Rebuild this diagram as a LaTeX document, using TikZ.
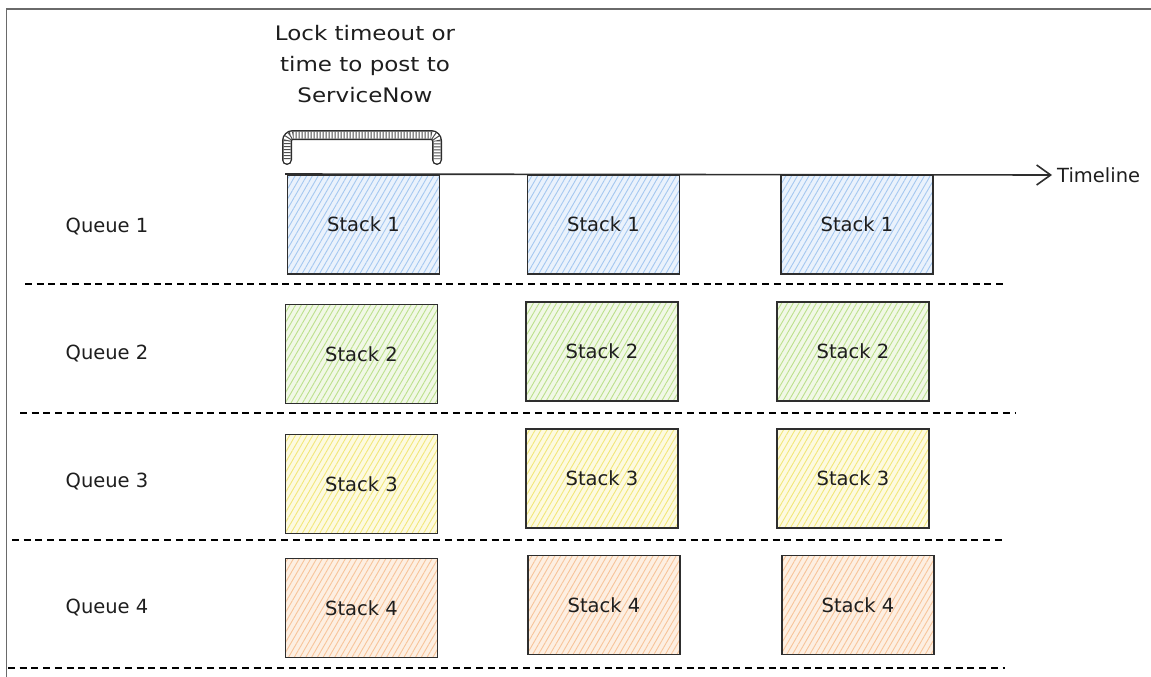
\documentclass[tikz,border=0pt]{standalone}
\usepackage{fontspec}
\setmainfont{DejaVu Sans}
\newfontfamily\widehand[FakeStretch=1.15]{DejaVu Sans}
\usetikzlibrary{patterns.meta,arrows.meta}

\definecolor{ink}{HTML}{2E2E2E}
\definecolor{txt}{HTML}{1E1E1E}
\definecolor{frame}{HTML}{6A6A6A}
% hachure line colours and pale fills of the four queues
\definecolor{hblue}{HTML}{A5C8F0}\definecolor{fblue}{HTML}{EAF2FC}
\definecolor{hgreen}{HTML}{BCE08C}\definecolor{fgreen}{HTML}{F1F8E6}
\definecolor{hyellow}{HTML}{F2E77A}\definecolor{fyellow}{HTML}{FDFAE0}
\definecolor{horange}{HTML}{F7C49A}\definecolor{forange}{HTML}{FDEFE2}

\begin{document}
\begin{tikzpicture}[x=1pt,y=-1pt,
  handtext/.style={text=txt, font=\fontsize{19.5}{23}\selectfont, inner sep=0pt},
  stackbox/.style={draw=ink, line width=1.5pt, minimum width=152pt,
    minimum height=99pt, inner sep=0pt, handtext,
    preaction={fill=#1},
    pattern={Lines[angle=60,distance=5pt,line width=0.9pt]},
  },
  blueb/.style={stackbox=fblue, pattern color=hblue},
  greenb/.style={stackbox=fgreen, pattern color=hgreen},
  yellowb/.style={stackbox=fyellow, pattern color=hyellow},
  orangeb/.style={stackbox=forange, pattern color=horange},
  laneline/.style={draw=black, line width=2.4pt, dash pattern=on 7pt off 4.7pt},
]
\useasboundingbox (0,0) rectangle (1151,677);

% outer frame (top and left edges)
\draw[frame, line width=1.3pt] (6.5,677) -- (6.5,9) -- (1151,9);

% caption above the bracket
\node[handtext, align=center, font=\widehand\fontsize{20}{31}\selectfont] (cap) at (365,64)
  {Lock timeout or\\time to post to\\ServiceNow};

% bracket marking the lock timeout span
\draw[ink, line width=10pt, line cap=round, rounded corners=6pt]
  (287,160) -- (287,135) -- (437,135) -- (437,160);
\draw[white, line width=7pt, line cap=round, rounded corners=6pt]
  (287,160) -- (287,135) -- (437,135) -- (437,160);
\draw[ink!85, line width=7pt, dash pattern=on 1pt off 2pt, rounded corners=6pt]
  (287,159) -- (287,135) -- (437,135) -- (437,159);

% timeline
\coordinate (tstart) at (285,174);
\node[handtext, anchor=west] (tl) at (1057,175) {Timeline};

% queue labels
\node[handtext] (q1) at (107,227) {Queue 1};
\node[handtext] (q2) at (107,354) {Queue 2};
\node[handtext] (q3) at (107,482) {Queue 3};
\node[handtext] (q4) at (107,608) {Queue 4};

% stacks of queue 1
\node[blueb] (s11) at (363.5,224.5) {Stack 1};
\node[blueb] (s12) at (603.5,224.5) {Stack 1};
\node[blueb] (s13) at (857,224.5) {Stack 1};
% stacks of queue 2
\node[greenb] (s21) at (361.5,354) {Stack 2};
\node[greenb] (s22) at (602,351.5) {Stack 2};
\node[greenb] (s23) at (853,351.5) {Stack 2};
% stacks of queue 3
\node[yellowb] (s31) at (361.5,484) {Stack 3};
\node[yellowb] (s32) at (602,478.5) {Stack 3};
\node[yellowb] (s33) at (853,478.5) {Stack 3};
% stacks of queue 4
\node[orangeb] (s41) at (361.5,608) {Stack 4};
\node[orangeb] (s42) at (604,605) {Stack 4};
\node[orangeb] (s43) at (858,605) {Stack 4};

\draw[ink, line width=1.6pt, -{Straight Barb[length=14pt,width=20pt,line width=1.6pt]}]
  (tstart) -- ([xshift=-5pt]tl.west);

% lane separators
\draw[laneline] (25,284) -- (1003,284);
\draw[laneline] (20,413) -- (1015,413);
\draw[laneline] (12,540) -- (1005,540);
\draw[laneline] (8,668) -- (1005,668);
\end{tikzpicture}
\end{document}
